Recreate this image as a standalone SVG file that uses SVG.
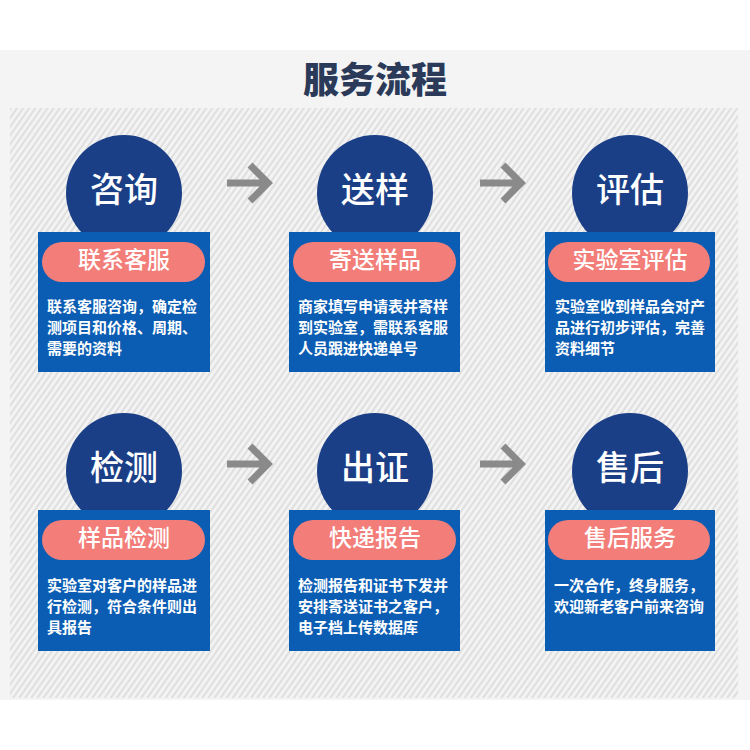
<svg xmlns="http://www.w3.org/2000/svg" width="750" height="750" viewBox="0 0 750 750">
  <defs>
    <pattern id="hatch" patternUnits="userSpaceOnUse" width="5" height="10" patternTransform="rotate(35)">
      <rect width="5" height="10" fill="#f3f3f3"/>
      <line x1="1" y1="0" x2="1" y2="10" stroke="#d9d9d9" stroke-width="1.5"/>
    </pattern>
  </defs>
  <style>
    .circ { fill: #1b3f87; }
    .card { fill: #0b5db3; }
    .pill { fill: #f27d79; }
    .head { font-family: "Noto Sans CJK SC", "Noto Sans", sans-serif; font-size: 34px; fill: #ffffff; text-anchor: middle; font-weight: 500; }
    .pt { font-family: "Noto Sans CJK SC", "Noto Sans", sans-serif; font-size: 23px; fill: #ffffff; text-anchor: middle; font-weight: 500; }
    .body { font-family: "Noto Sans CJK SC", "Noto Sans", sans-serif; font-size: 15px; fill: #ffffff; font-weight: 700; }
    .arrow { fill: none; stroke: #8a8a8a; stroke-width: 7; }
  </style>
  <rect x="0" y="0" width="750" height="750" fill="#ffffff"/>
  <rect x="0" y="50" width="750" height="650" fill="#f4f4f4"/>
  <rect x="10" y="108" width="728" height="590" fill="url(#hatch)"/>
  <text x="375" y="93" font-family="Noto Sans CJK SC, Noto Sans, sans-serif" font-size="36" font-weight="900" fill="#2a3a58" text-anchor="middle">服务流程</text>

  <g id="connectors">
    <path class="arrow" d="M227 183 H268 M250 165 L268 183 L250 201"/>
    <path class="arrow" d="M480 183 H521 M503 165 L521 183 L503 201"/>
    <path class="arrow" d="M227 464 H268 M250 446 L268 464 L250 482"/>
    <path class="arrow" d="M480 464 H521 M503 446 L521 464 L503 482"/>
  </g>

  <g id="node-zixun">
    <circle class="circ" cx="124" cy="193" r="58"/>
    <rect class="card" x="38" y="232" width="172" height="140"/>
    <rect class="pill" x="42" y="242" width="163" height="40" rx="20"/>
    <text class="head" x="124" y="202">咨询</text>
    <text class="pt" x="124" y="268">联系客服</text>
    <text class="body" x="47" y="312">联系客服咨询，确定检</text>
    <text class="body" x="47" y="333">测项目和价格、周期、</text>
    <text class="body" x="47" y="354">需要的资料</text>
  </g>

  <g id="node-songyang">
    <circle class="circ" cx="375" cy="193" r="58"/>
    <rect class="card" x="289" y="232" width="171" height="140"/>
    <rect class="pill" x="293" y="242" width="163" height="40" rx="20"/>
    <text class="head" x="375" y="202">送样</text>
    <text class="pt" x="375" y="268">寄送样品</text>
    <text class="body" x="298" y="312">商家填写申请表并寄样</text>
    <text class="body" x="298" y="333">到实验室，需联系客服</text>
    <text class="body" x="298" y="354">人员跟进快递单号</text>
  </g>

  <g id="node-pinggu">
    <circle class="circ" cx="630" cy="193" r="58"/>
    <rect class="card" x="545" y="232" width="170" height="140"/>
    <rect class="pill" x="548" y="242" width="162" height="40" rx="20"/>
    <text class="head" x="630" y="202">评估</text>
    <text class="pt" x="630" y="268">实验室评估</text>
    <text class="body" x="555" y="312">实验室收到样品会对产</text>
    <text class="body" x="555" y="333">品进行初步评估，完善</text>
    <text class="body" x="555" y="354">资料细节</text>
  </g>

  <g id="node-jiance">
    <circle class="circ" cx="124" cy="471" r="58"/>
    <rect class="card" x="38" y="510" width="172" height="141"/>
    <rect class="pill" x="42" y="520" width="163" height="40" rx="20"/>
    <text class="head" x="124" y="480">检测</text>
    <text class="pt" x="124" y="546">样品检测</text>
    <text class="body" x="47" y="591">实验室对客户的样品进</text>
    <text class="body" x="47" y="612">行检测，符合条件则出</text>
    <text class="body" x="47" y="633">具报告</text>
  </g>

  <g id="node-chuzheng">
    <circle class="circ" cx="375" cy="471" r="58"/>
    <rect class="card" x="289" y="510" width="171" height="141"/>
    <rect class="pill" x="293" y="520" width="163" height="40" rx="20"/>
    <text class="head" x="375" y="480">出证</text>
    <text class="pt" x="375" y="546">快递报告</text>
    <text class="body" x="298" y="591">检测报告和证书下发并</text>
    <text class="body" x="298" y="612">安排寄送证书之客户，</text>
    <text class="body" x="298" y="633">电子档上传数据库</text>
  </g>

  <g id="node-shouhou">
    <circle class="circ" cx="630" cy="471" r="58"/>
    <rect class="card" x="545" y="510" width="170" height="141"/>
    <rect class="pill" x="548" y="520" width="162" height="40" rx="20"/>
    <text class="head" x="630" y="480">售后</text>
    <text class="pt" x="630" y="546">售后服务</text>
    <text class="body" x="554" y="591">一次合作，终身服务，</text>
    <text class="body" x="554" y="612">欢迎新老客户前来咨询</text>
  </g>
</svg>
